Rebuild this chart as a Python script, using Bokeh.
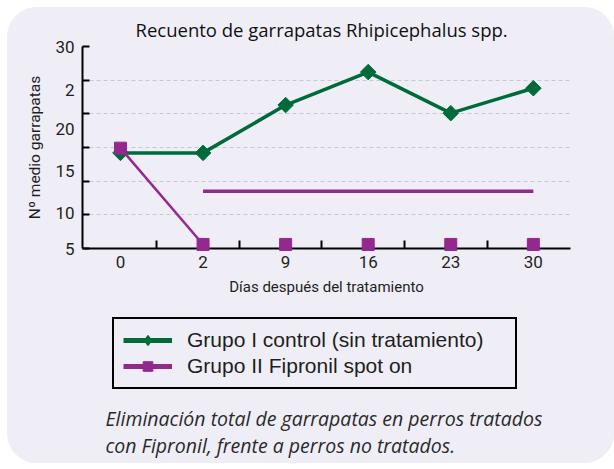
from bokeh.plotting import figure
from bokeh.layouts import column
from bokeh.models import Range1d, FixedTicker, Legend, LegendItem, Label
from bokeh.embed import file_html
from bokeh.resources import INLINE

# ---------------- data ----------------
days = ["0", "2", "9", "16", "23", "30"]
control = [14.2, 14.2, 21.3, 26.2, 20.1, 23.8]          # Grupo I control
fipronil = [14.9, 0.6, 0.6, 0.6, 0.6, 0.6]              # Grupo II Fipronil
fipronil_band_days = ["2", "9", "16", "23", "30"]
fipronil_band = [8.5, 8.5, 8.5, 8.5, 8.5]
y_tick_values = [0, 5, 10, 15, 20, 25, 30]
y_tick_labels = ["30", "2", "20", "15", "10", "5"]

title_text = "Recuento de garrapatas Rhipicephalus spp."
x_title = "Días después del tratamiento"
y_title = "Nº medio garrapatas"
legend_labels = ["Grupo I control (sin tratamiento)", "Grupo II Fipronil spot on"]
caption_lines = ["Eliminación total de garrapatas en perros tratados",
                 "con Fipronil, frente a perros no tratados."]

# ---------------- style ----------------
BG = "#EFEEF6"
GREEN = "#006B3A"
PURPLE = "#93288E"
GRID = "#C8C8D2"
INK = "#1E1E1E"
AXF = "Roboto"
W = 607

xi = list(range(len(days)))
idx = {d: i for i, d in enumerate(days)}
band_x = [idx[d] for d in fipronil_band_days]
# positions where the (misaligned) y tick labels are printed in the original
y_label_pos = [30, 23.6, 17.7, 11.5, 5.2, 0]

# ================= chart =================
p = figure(width=W, height=300, output_backend="svg", toolbar_location=None,
           x_range=Range1d(-0.46, 5.45), y_range=Range1d(0, 30),
           min_border_left=75, min_border_right=44, min_border_top=39,
           min_border_bottom=59)
p.background_fill_color = BG
p.border_fill_color = BG
p.outline_line_color = None

p.title.text = title_text
p.title.align = "left"
p.title.offset = 53
p.title.text_font = "Open Sans"
p.title.text_font_style = "normal"
p.title.text_font_size = "18.5px"
p.title.text_color = "#111111"

p.xgrid.visible = False
p.ygrid.ticker = FixedTicker(ticks=[v for v in y_tick_values if v > 0])
p.ygrid.grid_line_color = GRID
p.ygrid.grid_line_dash = "4 3"
p.ygrid.grid_line_width = 1

xa = p.xaxis[0]
xa.ticker = FixedTicker(ticks=xi, minor_ticks=[i + 0.44 for i in xi[:-1]])
xa.major_label_overrides = {i: d for i, d in zip(xi, days)}
xa.major_tick_in = 0
xa.major_tick_out = 0
xa.minor_tick_in = 8
xa.minor_tick_out = 0
xa.minor_tick_line_color = "black"
xa.minor_tick_line_width = 2
xa.axis_line_color = "black"
xa.axis_line_width = 2
xa.major_label_text_font = AXF
xa.major_label_text_font_size = "17px"
xa.major_label_text_color = INK
xa.major_label_standoff = 7
xa.axis_label = x_title
xa.axis_label_text_font = AXF
xa.axis_label_text_font_style = "normal"
xa.axis_label_text_font_size = "15px"
xa.axis_label_text_color = INK
xa.axis_label_standoff = 7

ya = p.yaxis[0]
ya.ticker = FixedTicker(ticks=y_label_pos, minor_ticks=y_tick_values)
ya.major_label_overrides = {v: t for v, t in zip(y_label_pos, y_tick_labels)}
ya.major_tick_in = 0
ya.major_tick_out = 0
ya.minor_tick_in = 7
ya.minor_tick_out = 0
ya.minor_tick_line_color = "black"
ya.minor_tick_line_width = 2
ya.axis_line_color = "black"
ya.axis_line_width = 2
ya.major_label_text_font = AXF
ya.major_label_text_font_size = "17px"
ya.major_label_text_color = INK
ya.major_label_standoff = 8
ya.axis_label = y_title
ya.axis_label_text_font = AXF
ya.axis_label_text_font_style = "normal"
ya.axis_label_text_font_size = "15.5px"
ya.axis_label_text_color = INK
ya.axis_label_standoff = 8

p.line(xi, control, line_color=GREEN, line_width=3.5)
p.scatter(xi, control, marker="square", angle=0.785398, size=11,
          fill_color=GREEN, line_color=GREEN)
p.line(xi[:2], fipronil[:2], line_color=PURPLE, line_width=2.5)
p.line(band_x, fipronil_band, line_color=PURPLE, line_width=3.5)
p.scatter(xi, fipronil, marker="square", size=12,
          fill_color=PURPLE, line_color=PURPLE, level="overlay")

# ================= legend + caption panel =================
# (its ranges lie away from the data, so the series only show as legend keys)
H2 = 156
q = figure(width=W, height=H2, output_backend="svg", toolbar_location=None,
           x_range=Range1d(100, 100 + W), y_range=Range1d(100, 100 + H2),
           x_axis_location=None, y_axis_location=None, min_border=0)
q.background_fill_color = BG
q.border_fill_color = BG
q.outline_line_color = None
q.grid.visible = False

lg_g_line = q.line(xi, control, line_color=GREEN, line_width=5)
lg_g_pt = q.scatter(xi, control, marker="diamond", size=11,
                    fill_color=GREEN, line_color=GREEN, line_width=1.5)
lg_p_line = q.line(xi, fipronil, line_color=PURPLE, line_width=5)
lg_p_pt = q.scatter(xi, fipronil, marker="square", size=11,
                    fill_color=PURPLE, line_color=PURPLE)

legend = Legend(items=[LegendItem(label=legend_labels[0], renderers=[lg_g_line, lg_g_pt]),
                       LegendItem(label=legend_labels[1], renderers=[lg_p_line, lg_p_pt])],
                location=(30, 74))
legend.label_text_font = "'Liberation Sans', Arial, sans-serif"
legend.label_text_font_size = "21px"
legend.label_text_color = INK
legend.glyph_width = 49
legend.glyph_height = 24
legend.label_height = 24
legend.label_width = 319
legend.label_standoff = 15
legend.padding = 9
legend.spacing = 2
legend.border_line_color = "black"
legend.border_line_alpha = 1
legend.border_line_width = 2.5
legend.background_fill_alpha = 0
q.add_layout(legend)

for k, line in enumerate(caption_lines):
    q.add_layout(Label(x=23, y=44.7 - 26.7 * k, x_units="screen", y_units="screen",
                       text=line, text_font="Open Sans", text_font_style="italic",
                       text_font_size="19.5px", text_color="#2A2A2A",
                       text_baseline="middle", text_align="left"))

layout = column(p, q, spacing=0)
layout.styles = {"margin-left": "7px", "margin-top": "7px", "border-radius": "30px",
                 "overflow": "hidden", "background-color": BG}

open("out.html", "w").write(file_html(layout, INLINE))
